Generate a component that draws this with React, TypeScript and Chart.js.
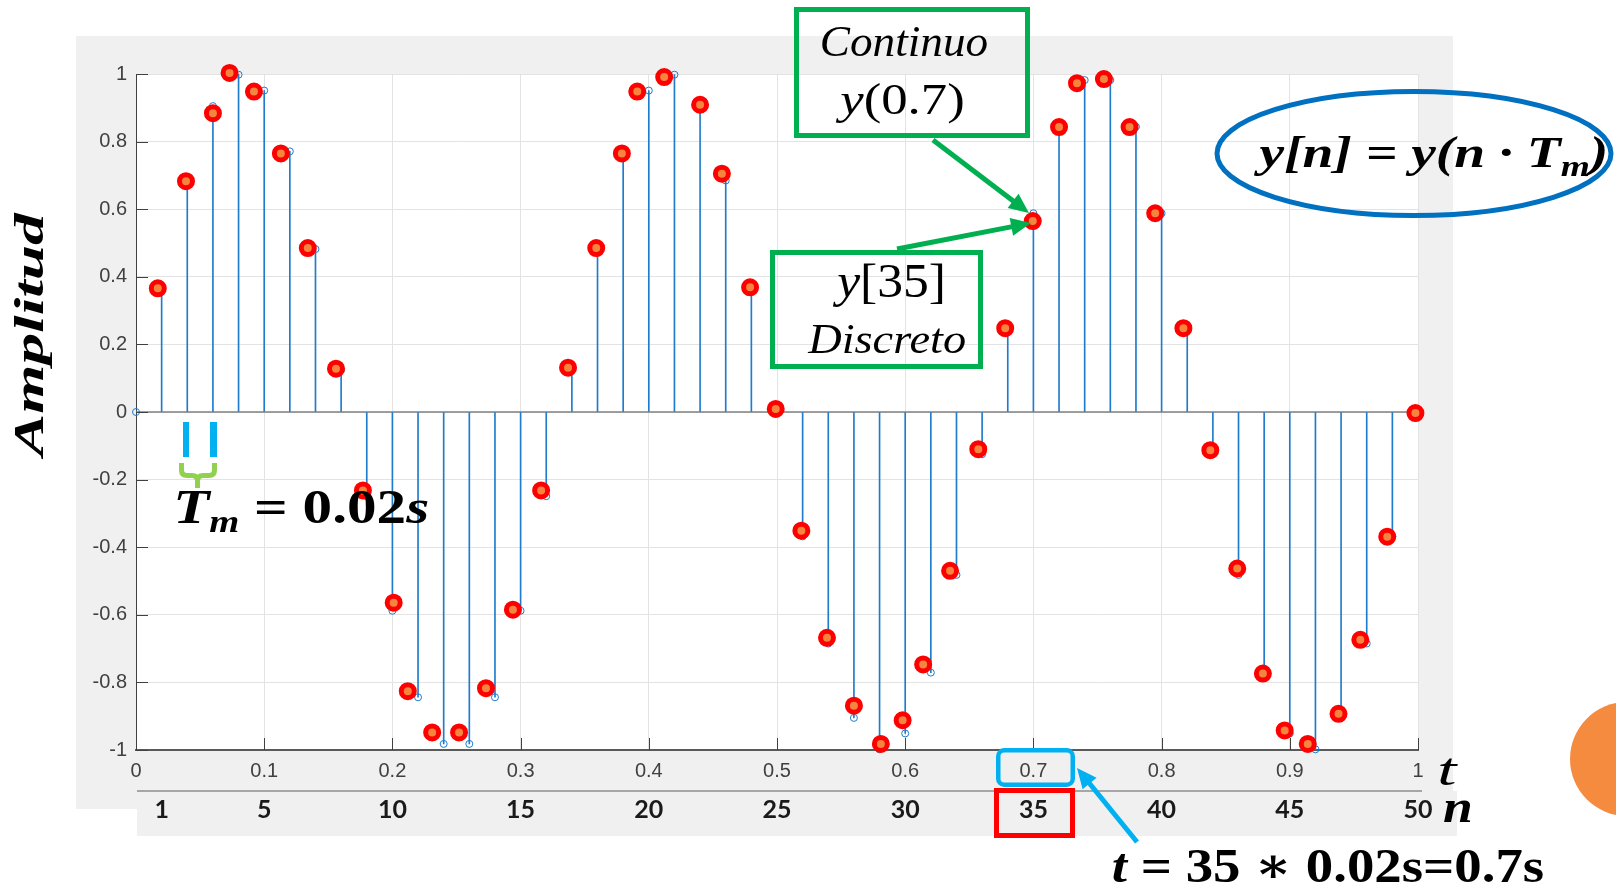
import React, { useEffect, useRef } from "react";
import { Chart, registerables } from "chart.js";
Chart.register(...registerables);

// ---------- data ----------
const T_SAMPLES = [
  0, 0.02, 0.04, 0.06, 0.08, 0.1, 0.12, 0.14, 0.16, 0.18, 0.2, 0.22, 0.24, 0.26, 0.28, 0.3, 0.32,
  0.34, 0.36, 0.38, 0.4, 0.42, 0.44, 0.46, 0.48, 0.5, 0.52, 0.54, 0.56, 0.58, 0.6, 0.62, 0.64, 0.66,
  0.68, 0.7, 0.72, 0.74, 0.76, 0.78, 0.8, 0.82, 0.84, 0.86, 0.88, 0.9, 0.92, 0.94, 0.96, 0.98, 1.0,
];
const STEM_Y = [
  0, 0.368, 0.685, 0.905, 0.998, 0.951, 0.771, 0.482, 0.125, -0.249, -0.588, -0.844, -0.982, -0.982,
  -0.844, -0.588, -0.249, 0.125, 0.482, 0.771, 0.951, 0.998, 0.905, 0.685, 0.368, 0, -0.368, -0.685,
  -0.905, -0.998, -0.951, -0.771, -0.482, -0.125, 0.249, 0.588, 0.844, 0.982, 0.982, 0.844, 0.588,
  0.249, -0.125, -0.482, -0.771, -0.951, -0.998, -0.905, -0.685, -0.368, 0,
];
// red markers placed over the samples (n = 1..50)
const DOT_T = [
  0.017, 0.039, 0.06, 0.073, 0.092, 0.113, 0.134, 0.156, 0.177, 0.201, 0.212, 0.231, 0.252, 0.273,
  0.294, 0.316, 0.337, 0.359, 0.379, 0.391, 0.412, 0.44, 0.457, 0.479, 0.499, 0.519, 0.539, 0.56,
  0.581, 0.598, 0.614, 0.635, 0.657, 0.678, 0.6995, 0.72, 0.734, 0.755, 0.775, 0.795, 0.817, 0.838,
  0.859, 0.879, 0.896, 0.914, 0.938, 0.955, 0.976, 0.998,
];
const DOT_Y = [
  0.366, 0.683, 0.884, 1.003, 0.948, 0.765, 0.485, 0.128, -0.232, -0.564, -0.826, -0.948, -0.948,
  -0.817, -0.585, -0.232, 0.131, 0.485, 0.765, 0.948, 0.991, 0.909, 0.705, 0.369, 0.009, -0.351,
  -0.668, -0.869, -0.982, -0.912, -0.747, -0.47, -0.11, 0.248, 0.565, 0.843, 0.973, 0.985, 0.843,
  0.588, 0.248, -0.113, -0.463, -0.774, -0.942, -0.982, -0.893, -0.674, -0.369, -0.003,
];
const X_TICKS = [0, 0.1, 0.2, 0.3, 0.4, 0.5, 0.6, 0.7, 0.8, 0.9, 1];
const Y_TICKS = [-1, -0.8, -0.6, -0.4, -0.2, 0, 0.2, 0.4, 0.6, 0.8, 1];
const N_TICKS = [1, 5, 10, 15, 20, 25, 30, 35, 40, 45, 50];

// ---------- styles ----------
const W = 1616;
const H = 887;
const STEM = "#1f7ccc";
const SERIF = '"Liberation Serif", "DejaVu Serif", serif';
const SANS = '"Liberation Sans", Arial, sans-serif';

type Run = { t: string; f: string; dy?: number };

function drawRich(
  ctx: CanvasRenderingContext2D,
  runs: Run[],
  x0: number,
  y0: number,
  x1: number,
  y1: number,
  color = "#000"
) {
  ctx.save();
  ctx.textBaseline = "alphabetic";
  ctx.textAlign = "left";
  let x = 0;
  let minX = Infinity,
    maxX = -Infinity,
    minY = Infinity,
    maxY = -Infinity;
  const pos: number[] = [];
  for (const r of runs) {
    ctx.font = r.f;
    const m = ctx.measureText(r.t);
    const dy = r.dy || 0;
    pos.push(x);
    minX = Math.min(minX, x - m.actualBoundingBoxLeft);
    maxX = Math.max(maxX, x + m.actualBoundingBoxRight);
    minY = Math.min(minY, dy - m.actualBoundingBoxAscent);
    maxY = Math.max(maxY, dy + m.actualBoundingBoxDescent);
    x += m.width;
  }
  const sx = (x1 - x0) / (maxX - minX);
  const sy = (y1 - y0) / (maxY - minY);
  ctx.translate(x0 - minX * sx, y0 - minY * sy);
  ctx.scale(sx, sy);
  ctx.fillStyle = color;
  runs.forEach((r, i) => {
    ctx.font = r.f;
    ctx.fillText(r.t, pos[i], r.dy || 0);
  });
  ctx.restore();
}

function arrow(
  ctx: CanvasRenderingContext2D,
  xa: number,
  ya: number,
  xb: number,
  yb: number,
  color: string,
  lw: number,
  hl: number,
  hw: number
) {
  const a = Math.atan2(yb - ya, xb - xa);
  const c = Math.cos(a),
    s = Math.sin(a);
  const bx = xb - hl * c,
    by = yb - hl * s;
  ctx.save();
  ctx.strokeStyle = color;
  ctx.fillStyle = color;
  ctx.lineWidth = lw;
  ctx.beginPath();
  ctx.moveTo(xa, ya);
  ctx.lineTo(bx + c, by + s);
  ctx.stroke();
  ctx.beginPath();
  ctx.moveTo(xb, yb);
  ctx.lineTo(bx - (hw / 2) * s, by + (hw / 2) * c);
  ctx.lineTo(bx + (hw / 2) * s, by - (hw / 2) * c);
  ctx.closePath();
  ctx.fill();
  ctx.restore();
}

const backgroundPlugin = {
  id: "bgPanels",
  beforeDraw(chart: any) {
    const { ctx, chartArea: ca } = chart;
    ctx.save();
    ctx.fillStyle = "#ffffff";
    ctx.fillRect(0, 0, W, H);
    ctx.fillStyle = "#f0f0f0";
    ctx.fillRect(76, 36, 1453 - 76, 809 - 36);
    ctx.fillRect(137, 791, 1457 - 137, 836 - 791);
    ctx.strokeStyle = "#a6a6a6";
    ctx.lineWidth = 2;
    ctx.beginPath();
    ctx.moveTo(137, 791);
    ctx.lineTo(1422, 791);
    ctx.stroke();
    ctx.fillStyle = "#ffffff";
    ctx.fillRect(ca.left, ca.top, ca.right - ca.left, ca.bottom - ca.top);
    ctx.restore();
  },
  beforeDatasetsDraw(chart: any) {
    const { ctx, chartArea: ca, scales } = chart;
    const y0 = scales.y.getPixelForValue(0);
    ctx.save();
    ctx.strokeStyle = "#808080";
    ctx.lineWidth = 1.5;
    ctx.beginPath();
    ctx.moveTo(ca.left, y0);
    ctx.lineTo(ca.right, y0);
    ctx.stroke();
    ctx.restore();
  },
  afterDatasetsDraw(chart: any) {
    const { ctx, chartArea: ca, scales } = chart;
    ctx.save();
    ctx.strokeStyle = "#404040";
    ctx.lineWidth = 1;
    ctx.beginPath();
    for (const v of X_TICKS) {
      const px = Math.round(scales.x.getPixelForValue(v)) + 0.5;
      ctx.moveTo(px, ca.bottom);
      ctx.lineTo(px, ca.bottom - 12);
    }
    for (const v of Y_TICKS) {
      const py = Math.round(scales.y.getPixelForValue(v)) + 0.5;
      ctx.moveTo(ca.left, py);
      ctx.lineTo(ca.left + 12, py);
    }
    ctx.stroke();
    ctx.restore();
  },
};

const annotationPlugin = {
  id: "annotations",
  afterDraw(chart: any) {
    const ctx: CanvasRenderingContext2D = chart.ctx;
    ctx.save();

    // Amplitud (rotated)
    ctx.save();
    ctx.translate(13, 460);
    ctx.rotate(-Math.PI / 2);
    drawRich(ctx, [{ t: "Amplitud", f: `italic bold 48px ${SERIF}` }], 0, 0, 248, 39);
    ctx.restore();

    // Tm interval marks
    ctx.fillStyle = "#00b0f0";
    ctx.fillRect(183, 422, 6, 35);
    ctx.fillRect(210, 422, 7, 35);
    ctx.strokeStyle = "#92d050";
    ctx.lineWidth = 5;
    ctx.lineCap = "butt";
    ctx.beginPath();
    ctx.moveTo(181.5, 463);
    ctx.lineTo(181.5, 470);
    ctx.quadraticCurveTo(181.5, 475.5, 187, 475.5);
    ctx.lineTo(192, 475.5);
    ctx.quadraticCurveTo(197.5, 475.5, 197.5, 481);
    ctx.lineTo(197.5, 488);
    ctx.moveTo(197.5, 481);
    ctx.quadraticCurveTo(197.5, 475.5, 203, 475.5);
    ctx.lineTo(209, 475.5);
    ctx.quadraticCurveTo(214.5, 475.5, 214.5, 470);
    ctx.lineTo(214.5, 463);
    ctx.stroke();

    drawRich(
      ctx,
      [
        { t: "T", f: `italic bold 46px ${SERIF}` },
        { t: "m", f: `italic bold 30px ${SERIF}`, dy: 9 },
        { t: " = 0.02", f: `bold 46px ${SERIF}` },
        { t: "s", f: `italic bold 46px ${SERIF}` },
      ],
      177,
      490,
      428,
      532
    );

    // green boxes
    ctx.strokeStyle = "#00b050";
    ctx.lineWidth = 5;
    ctx.strokeRect(796.5, 9.5, 231, 126);
    ctx.strokeRect(772.5, 252.5, 208, 114);
    drawRich(ctx, [{ t: "Continuo", f: `italic 40px ${SERIF}` }], 822, 27, 987, 56);
    drawRich(
      ctx,
      [
        { t: "y", f: `italic 40px ${SERIF}` },
        { t: "(0.7)", f: `40px ${SERIF}` },
      ],
      835,
      83,
      963,
      124
    );
    drawRich(
      ctx,
      [
        { t: "y", f: `italic 40px ${SERIF}` },
        { t: "[35]", f: `40px ${SERIF}` },
      ],
      832,
      262,
      943,
      308
    );
    drawRich(ctx, [{ t: "Discreto", f: `italic 40px ${SERIF}` }], 807, 325, 965, 353);

    arrow(ctx, 933, 140, 1029, 213, "#00b050", 5, 20, 18);
    arrow(ctx, 897, 249, 1031, 223, "#00b050", 5, 20, 18);

    // blue ellipse formula
    ctx.strokeStyle = "#0070c0";
    ctx.lineWidth = 5;
    ctx.beginPath();
    ctx.ellipse(1414, 153.5, 197, 62, 0, 0, Math.PI * 2);
    ctx.stroke();
    drawRich(
      ctx,
      [
        { t: "y[n] = y(n · T", f: `italic bold 40px ${SERIF}` },
        { t: "m", f: `italic bold 27px ${SERIF}`, dy: 8 },
        { t: ")", f: `italic bold 40px ${SERIF}` },
      ],
      1254,
      137,
      1605,
      177
    );

    // axis names
    drawRich(ctx, [{ t: "t", f: `italic 40px ${SERIF}` }], 1439, 758, 1458, 785);
    drawRich(ctx, [{ t: "n", f: `italic bold 44px ${SERIF}` }], 1443, 800, 1471, 822);

    // highlight boxes
    ctx.strokeStyle = "#00b0f0";
    ctx.lineWidth = 4.5;
    ctx.beginPath();
    (ctx as any).roundRect(998.25, 750.25, 74.5, 34.5, 6);
    ctx.stroke();
    ctx.strokeStyle = "#ff0000";
    ctx.lineWidth = 5;
    ctx.strokeRect(996.5, 790.5, 76, 45);

    arrow(ctx, 1137, 842, 1077, 768, "#00b0f0", 5, 20, 18);

    drawRich(
      ctx,
      [
        { t: "t", f: `italic bold 44px ${SERIF}` },
        { t: " = 35 ∗ 0.02s=0.7s", f: `bold 44px ${SERIF}` },
      ],
      1113,
      850,
      1544,
      882
    );

    // orange decoration
    ctx.fillStyle = "#f58b3f";
    ctx.beginPath();
    ctx.arc(1627, 759, 57, 0, Math.PI * 2);
    ctx.fill();

    ctx.restore();
  },
};

export default function App() {
  const ref = useRef<HTMLCanvasElement | null>(null);

  useEffect(() => {
    if (!ref.current) return;
    const chart = new Chart(ref.current, {
      type: "bar",
      data: {
        datasets: [
          {
            type: "bar",
            data: T_SAMPLES.map((t, i) => ({ x: t, y: STEM_Y[i] })),
            backgroundColor: STEM,
            borderWidth: 0,
            barThickness: 1,
            order: 3,
            xAxisID: "x",
            yAxisID: "y",
          } as any,
          {
            type: "line",
            data: T_SAMPLES.map((t, i) => ({ x: t, y: STEM_Y[i] })),
            showLine: false,
            pointRadius: 3.5,
            pointBorderWidth: 1,
            pointBorderColor: STEM,
            pointBackgroundColor: "rgba(0,0,0,0)",
            clip: false,
            order: 2,
            xAxisID: "x",
            yAxisID: "y",
          } as any,
          {
            type: "line",
            data: DOT_T.map((t, i) => ({ x: t, y: DOT_Y[i] })),
            showLine: false,
            pointRadius: 6.5,
            pointBorderWidth: 5,
            pointBorderColor: "#ff0000",
            pointBackgroundColor: "#f5843f",
            clip: false,
            order: 1,
            xAxisID: "x",
            yAxisID: "y",
          } as any,
        ],
      },
      options: {
        animation: false,
        responsive: false,
        events: [],
        layout: { padding: { left: 0, right: 198, top: 74, bottom: 51 } },
        plugins: { legend: { display: false }, tooltip: { enabled: false } },
        scales: {
          x: {
            type: "linear",
            position: "bottom",
            weight: 0,
            min: 0,
            max: 1,
            offset: false,
            afterBuildTicks: (s: any) => {
              s.ticks = X_TICKS.map((v) => ({ value: v }));
            },
            afterFit: (s: any) => {
              s.height = 41;
            },
            ticks: {
              autoSkip: false,
              maxRotation: 0,
              padding: 9,
              color: "#404040",
              font: { family: SANS, size: 20 },
              callback: (v: any) => String(v),
            },
            grid: { color: "#e3e3e3", drawTicks: false, offset: false },
            border: { color: "#5a5a5a", width: 2 },
          },
          x2: {
            type: "linear",
            position: "bottom",
            weight: 1,
            min: 0,
            max: 50,
            offset: false,
            afterBuildTicks: (s: any) => {
              s.ticks = N_TICKS.map((v) => ({ value: v }));
            },
            afterFit: (s: any) => {
              s.height = 45;
            },
            ticks: {
              autoSkip: false,
              maxRotation: 0,
              padding: 4,
              color: "#1a1a1a",
              font: { family: "Lato", size: 25, weight: "bold" },
              callback: (v: any) => String(v),
            },
            grid: { display: false, drawTicks: false, offset: false },
            border: { display: false },
          },
          y: {
            type: "linear",
            min: -1,
            max: 1,
            afterBuildTicks: (s: any) => {
              s.ticks = Y_TICKS.map((v) => ({ value: v }));
            },
            afterFit: (s: any) => {
              s.width = 136;
            },
            ticks: {
              autoSkip: false,
              padding: 9,
              color: "#404040",
              font: { family: SANS, size: 20 },
              callback: (v: any) => String(v),
            },
            grid: { color: "#e3e3e3", drawTicks: false },
            border: { color: "#404040", width: 1 },
          },
        },
      } as any,
      plugins: [backgroundPlugin, annotationPlugin],
    });
    return () => chart.destroy();
  }, []);

  return (
    <div style={{ position: "absolute", left: 0, top: 0, width: W, height: H, background: "#fff" }}>
      <canvas ref={ref} width={W} height={H} style={{ display: "block", width: W, height: H }} />
    </div>
  );
}
